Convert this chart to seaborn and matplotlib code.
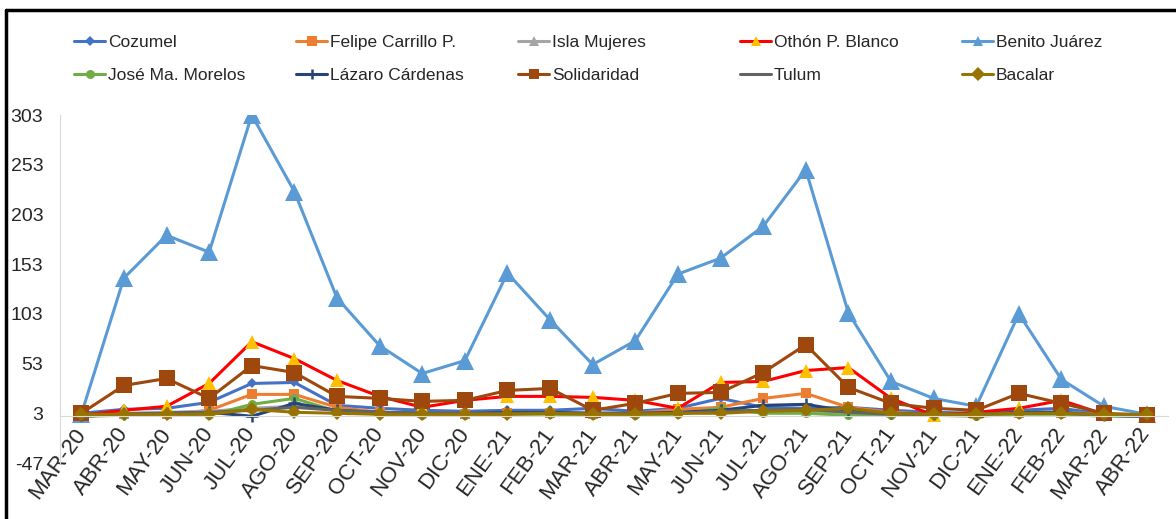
import matplotlib
matplotlib.use("Agg")
import matplotlib.pyplot as plt
from matplotlib import font_manager
from matplotlib.lines import Line2D
import seaborn as sns
import numpy as np

# monthly values per municipality, MAR-20 .. ABR-22
months = ["MAR-20", "ABR-20", "MAY-20", "JUN-20", "JUL-20", "AGO-20", "SEP-20", "OCT-20",
          "NOV-20", "DIC-20", "ENE-21", "FEB-21", "MAR-21", "ABR-21", "MAY-21", "JUN-21",
          "JUL-21", "AGO-21", "SEP-21", "OCT-21", "NOV-21", "DIC-21", "ENE-22", "FEB-22",
          "MAR-22", "ABR-22"]

cozumel = [3, 7, 8, 14, 33, 34, 11, 8, 6, 5, 6, 6, 8, 5, 8, 18, 9, 8, 9, 6, 4, 3, 6, 8, 2, 1]
felipe = [0, 2, 2, 6, 22, 22, 9, 4, 3, 2, 3, 3, 2, 3, 7, 9, 18, 23, 9, 4, 2, 2, 3, 3, 1, 0]
isla = [1, 3, 4, 5, 8, 10, 6, 4, 3, 3, 4, 4, 3, 3, 4, 5, 6, 5, 4, 3, 2, 2, 4, 4, 2, 1]
othon = [1, 6, 10, 33, 75, 58, 36, 20, 9, 16, 20, 20, 19, 16, 8, 34, 35, 46, 49, 18, 1, 4, 8, 16, 2, 1]
benito = [2, 139, 182, 165, 303, 226, 119, 71, 43, 56, 144, 97, 52, 76, 143, 159, 191, 248, 104, 35, 18, 10, 103, 37, 10, 2]
jose = [0, 1, 2, 1, 12, 18, 5, 2, 1, 1, 2, 2, 1, 1, 2, 8, 3, 3, 1, 1, 1, 0, 2, 2, 0, 0]
lazaro = [1, 2, 3, 4, 0, 13, 6, 4, 3, 3, 4, 4, 3, 3, 4, 6, 11, 12, 5, 3, 2, 2, 4, 4, 1, 0]
solidaridad = [3, 31, 38, 18, 51, 44, 20, 18, 15, 16, 26, 28, 6, 13, 23, 24, 44, 72, 29, 13, 8, 6, 23, 13, 3, 1]
tulum = [0, 2, 3, 4, 6, 9, 6, 4, 3, 3, 3, 3, 3, 3, 3, 5, 6, 7, 4, 2, 2, 2, 3, 3, 1, 0]
bacalar = [2, 2, 2, 2, 7, 4, 3, 2, 2, 2, 2, 3, 2, 2, 3, 3, 5, 6, 8, 3, 2, 2, 3, 3, 2, 2]

y_ticks = [-47, 3, 53, 103, 153, 203, 253, 303]

series = [
    ("Cozumel", cozumel, dict(color="#4472C4", marker="D", markersize=5)),
    ("Felipe Carrillo P.", felipe, dict(color="#ED7D31", marker="s", markersize=6.5)),
    ("Isla Mujeres", isla, dict(color="#A5A5A5", marker="^", markersize=6.5)),
    ("Othón P. Blanco", othon, dict(color="#FF0000", marker="^", markersize=10,
                                     markerfacecolor="#FFC000", markeredgecolor="#FFC000")),
    ("Benito Juárez", benito, dict(color="#5B9BD5", marker="^", markersize=13)),
    ("José Ma. Morelos", jose, dict(color="#70AD47", marker="o", markersize=6.5)),
    ("Lázaro Cárdenas", lazaro, dict(color="#264478", marker="+", markersize=9, markeredgewidth=1.8)),
    ("Solidaridad", solidaridad, dict(color="#9E480E", marker="s", markersize=11)),
    ("Tulum", tulum, dict(color="#636363", marker=None)),
    ("Bacalar", bacalar, dict(color="#997300", marker="D", markersize=7)),
]

sns.set_style("white")
names = {f.name for f in font_manager.fontManager.ttflist}
base_font = "Liberation Sans Narrow" if "Liberation Sans Narrow" in names else "Liberation Sans"
plt.rcParams["font.family"] = [base_font, "DejaVu Sans"]

fig = plt.figure(figsize=(11.76, 5.19), dpi=100)
ax = fig.add_axes([60 / 1176, 1 - 463 / 519, 1108 / 1176, 348 / 519])

x = np.arange(len(months))
handles = {}
for name, vals, style in series:
    style = dict(style)
    style.setdefault("markeredgecolor", style["color"])
    style.setdefault("markeredgewidth", 0)
    sns.lineplot(x=x, y=vals, ax=ax, linewidth=2.2, legend=False, **style)
    handles[name] = ax.lines[-1]

# category axis crosses at 0, like the original
ax.spines["bottom"].set_position(("data", 0))
for side in ["top", "right"]:
    ax.spines[side].set_visible(False)
ax.spines["bottom"].set_color("#D9D9D9")
ax.spines["left"].set_color("#D9D9D9")
ax.grid(False)

ax.set_xlim(-0.5, len(months) - 0.5)
ax.set_ylim(-47, 303)
ax.set_yticks(y_ticks)
ax.set_yticklabels([str(t) for t in y_ticks])
ax.set_xticks(x)
ax.set_xticklabels(months, rotation=54, ha="right", va="center", rotation_mode="anchor")
ax.set_xticks(np.arange(-0.5, len(months)), minor=True)
ax.tick_params(axis="x", which="major", length=0, pad=10, labelsize=16)
ax.tick_params(axis="x", which="minor", length=5, color="#D9D9D9", direction="out")
ax.tick_params(axis="y", length=0, pad=12, labelsize=14)

# legend laid out like the original: 2 rows, 5 evenly spaced columns
order = [["Cozumel", "José Ma. Morelos"], ["Felipe Carrillo P.", "Lázaro Cárdenas"],
         ["Isla Mujeres", "Solidaridad"], ["Othón P. Blanco", "Tulum"],
         ["Benito Juárez", "Bacalar"]]
col_x = [74, 296, 518, 740, 962]
for cx, pair in zip(col_x, order):
    hs = []
    for n in pair:
        h = handles[n]
        hs.append(Line2D([], [], color=h.get_color(), linewidth=2.2, marker=h.get_marker(),
                         markersize=min(h.get_markersize(), 7),
                         markerfacecolor=h.get_markerfacecolor(),
                         markeredgecolor=h.get_markeredgecolor(),
                         markeredgewidth=h.get_markeredgewidth()))
    fig.legend(hs, pair, loc="upper left", bbox_to_anchor=(cx / 1176, 1 - 35 / 519),
               frameon=False, fontsize=12.5, handlelength=1.8, handletextpad=0.15,
               labelspacing=1.0, borderaxespad=0, borderpad=0)

# chart border (top and left visible in the crop)
fig.add_artist(Line2D([6 / 1176, 1], [1 - 10 / 519, 1 - 10 / 519], color="black",
                      linewidth=2.5, transform=fig.transFigure))
fig.add_artist(Line2D([6 / 1176, 6 / 1176], [0, 1 - 10 / 519], color="black",
                      linewidth=2.5, transform=fig.transFigure))

fig.savefig("out.png", dpi=100)
